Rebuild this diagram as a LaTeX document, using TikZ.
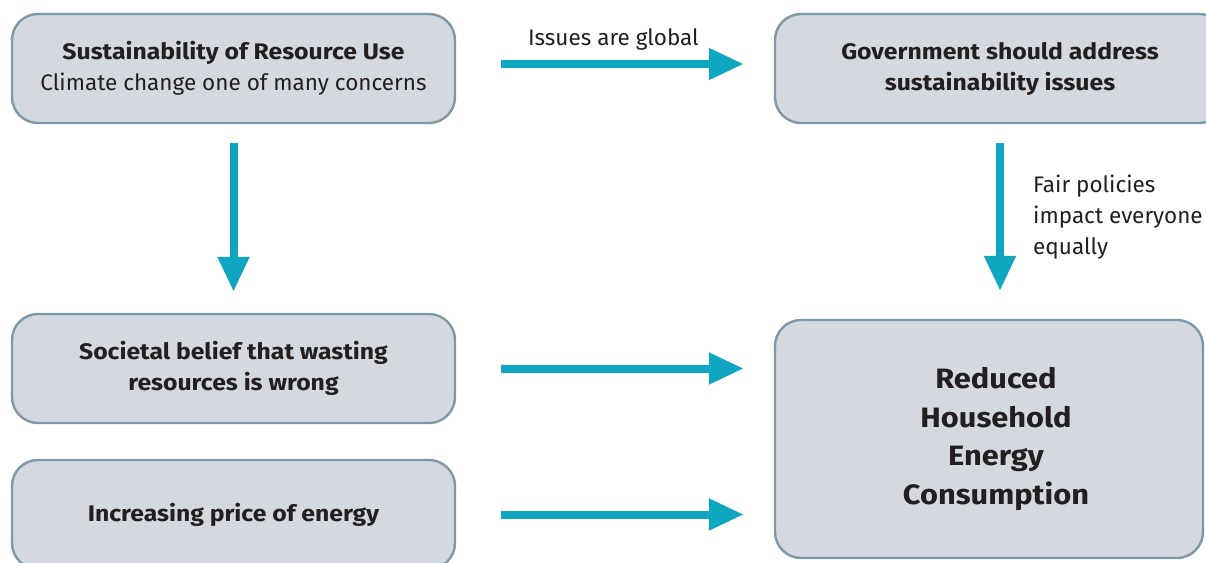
\documentclass[tikz,border=0pt]{standalone}
\usepackage{fontspec}
\setmainfont{Fira Sans}[BoldFeatures={FakeStretch=1.1}]
\usetikzlibrary{arrows.meta}
\definecolor{boxfill}{HTML}{D3D9DE}
\definecolor{boxline}{HTML}{7E98A8}
\definecolor{arrowc}{HTML}{0FA6C2}
\definecolor{txt}{HTML}{231F20}
\tikzset{
  box/.style={draw=boxline, line width=2.4pt, fill=boxfill, rounded corners=26pt,
    align=center, text=txt, inner sep=0pt, font=\fontsize{22.5}{31}\selectfont},
  boldbox/.style={box, font=\bfseries\fontsize{22.5}{31}\selectfont},
  flow/.style={draw=arrowc, line width=8pt,
    -{Triangle[length=35pt,width=30pt]}},
  lbl/.style={text=txt, inner sep=0pt, font=\fontsize{22.5}{31}\selectfont}
}
\begin{document}
\begin{tikzpicture}[x=1pt,y=-1pt]
\useasboundingbox (0,0) rectangle (1206,562);
\node[box, minimum width=443pt, minimum height=109pt] (sus) at (233.5,68.5)
  {\textbf{Sustainability of Resource Use}\\Climate change one of many concerns};
\node[boldbox, minimum width=450pt, minimum height=109pt] (gov) at (1000,68.5)
  {Government should address\\sustainability issues};
\node[boldbox, minimum width=443pt, minimum height=109pt] (soc) at (233.5,368.5)
  {Societal belief that wasting\\resources is wrong};
\node[boldbox, minimum width=443pt, minimum height=109pt] (inc) at (233.5,514.5)
  {Increasing price of energy};
\node[box, minimum width=428pt, minimum height=238pt, font=\bfseries\fontsize{28}{38.5}\selectfont] (red) at (989,439)
  {\hspace*{14pt}Reduced\\\hspace*{14pt}Household\\\hspace*{14pt}Energy\\\hspace*{14pt}Consumption};

\draw[flow, shorten <=45pt, shorten >=30pt] ([yshift=4.5pt]sus.east) -- ([yshift=4.5pt]sus.east -| gov.west)
  node[lbl, pos=0.495, above=10pt] (issues) {Issues are global};
\draw[flow, shorten <=19pt, shorten >=21pt] (sus.south) -- (sus.south |- soc.north);
\draw[flow, shorten <=19pt, shorten >=28pt] (gov.south) -- (gov.south |- red.north);
\node[lbl, anchor=west, align=left] (fair) at (1033,217) {Fair policies\\impact everyone\\equally};
\draw[flow, shorten <=45pt, shorten >=30pt] (soc.east) -- (soc.east -| red.west);
\draw[flow, shorten <=45pt, shorten >=30pt] (inc.east) -- (inc.east -| red.west);
\end{tikzpicture}
\end{document}
